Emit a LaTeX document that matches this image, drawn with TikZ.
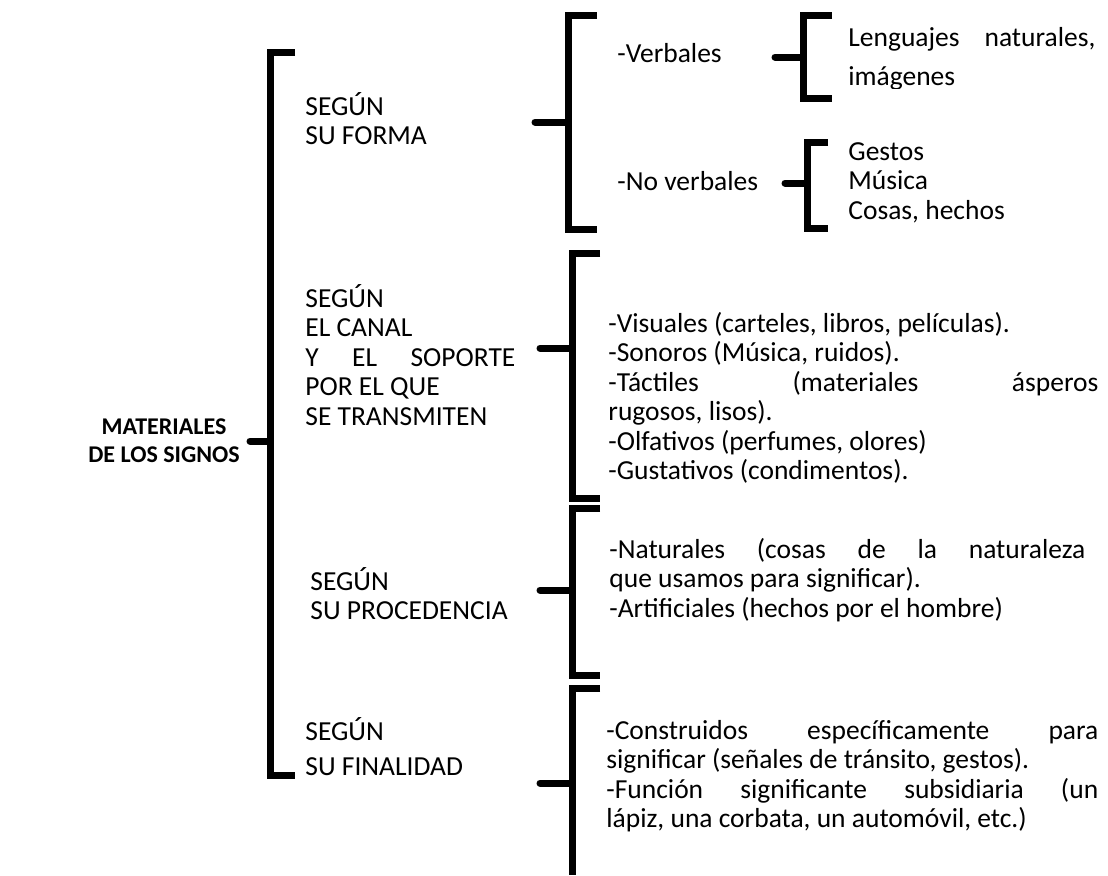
\documentclass[tikz,border=0pt]{standalone}
\usepackage{fontspec}
\setmainfont{Carlito}
\usepackage{tikz}
\usetikzlibrary{positioning,calc}

\tikzset{
  brk/.style={line width=3.5pt, line join=miter},
  tick/.style={line width=3.5pt, line cap=round},
  lbl/.style={font=\fontsize{13.75}{14.75}\selectfont, inner sep=0pt, anchor=base west, align=justify, text width=130pt},
}

\begin{document}
\begin{tikzpicture}[x=0.5pt, y=-0.5pt]
    \useasboundingbox (0,0) rectangle (1108,875);

    % main brace
    \node[lbl, font=\fontsize{12}{14}\selectfont\bfseries, anchor=base, align=justify, text width=90pt] (mat) at (164,434) {\centering MATERIALES\\DE LOS SIGNOS\par};
    \draw[brk] (295,52) -| (270,775) -- (295,775);
    \draw[tick] (250,441) -- (270,441);

    % left labels
    \node[lbl] (forma) at (305,115) {SEGÚN\\SU FORMA};
    \node[lbl, text width=105pt] (canal) at (305,307) {SEGÚN\\EL CANAL\\Y \hfill EL \hfill SOPORTE\\POR EL QUE\\SE TRANSMITEN};
    \node[lbl] (proc) at (310,590) {SEGÚN\\SU PROCEDENCIA};
    \node[lbl] (fin) at (305,740) {SEGÚN\\[3pt]SU FINALIDAD};

    % Según su forma
    \draw[brk] (597,15) -| (568,229) -- (597,229);
    \draw[tick] (535,122) -- (568,122);
    \node[lbl] (verb) at (617,62) {-Verbales};
    \node[lbl] (noverb) at (617,190) {-No verbales};
    \draw[brk] (832,15) -| (803,98) -- (832,98);
    \draw[tick] (775,57) -- (803,57);
    \draw[brk] (828,142) -| (807,228) -- (828,228);
    \draw[tick] (785,183) -- (807,183);
    \begin{scope}
        \clip (840,0) rectangle (1108,88);
        \node[lbl, text width=123.5pt] (leng) at (848,46) {Lenguajes \hfill naturales,\\[5pt]imágenes};
    \end{scope}
    \node[lbl] (gestos) at (848,160) {Gestos\\Música\\Cosas, hechos};

    % Según el canal
    \draw[brk] (600,253) -| (572,498) -- (600,498);
    \draw[tick] (540,348) -- (572,348);
    \node[lbl, text width=245pt] (canaltxt) at (608,332) {-Visuales (carteles, libros, películas).\\-Sonoros (Música, ruidos).\\-Táctiles \hfill (materiales \hfill ásperos\\rugosos, lisos).\\-Olfativos (perfumes, olores)\\-Gustativos (condimentos).};

    % Según su procedencia
    \draw[brk] (600,508) -| (572,675) -- (600,675);
    \draw[tick] (540,590) -- (572,590);
    \node[lbl, text width=238pt] (proctxt) at (609,558) {-Naturales \hfill (cosas \hfill de \hfill la \hfill naturaleza\\que usamos para significar).\\-Artificiales (hechos por el hombre)};

    % Según su finalidad
    \draw[brk] (600,688) -| (572,875);
    \draw[tick] (540,783) -- (572,783);
    \node[lbl, text width=246pt] (fintxt) at (606,739) {-Construidos \hfill específicamente \hfill para\\significar (señales de tránsito, gestos).\\-Función \hfill significante \hfill subsidiaria \hfill (un\\lápiz, una corbata, un automóvil, etc.)};
\end{tikzpicture}
\end{document}
